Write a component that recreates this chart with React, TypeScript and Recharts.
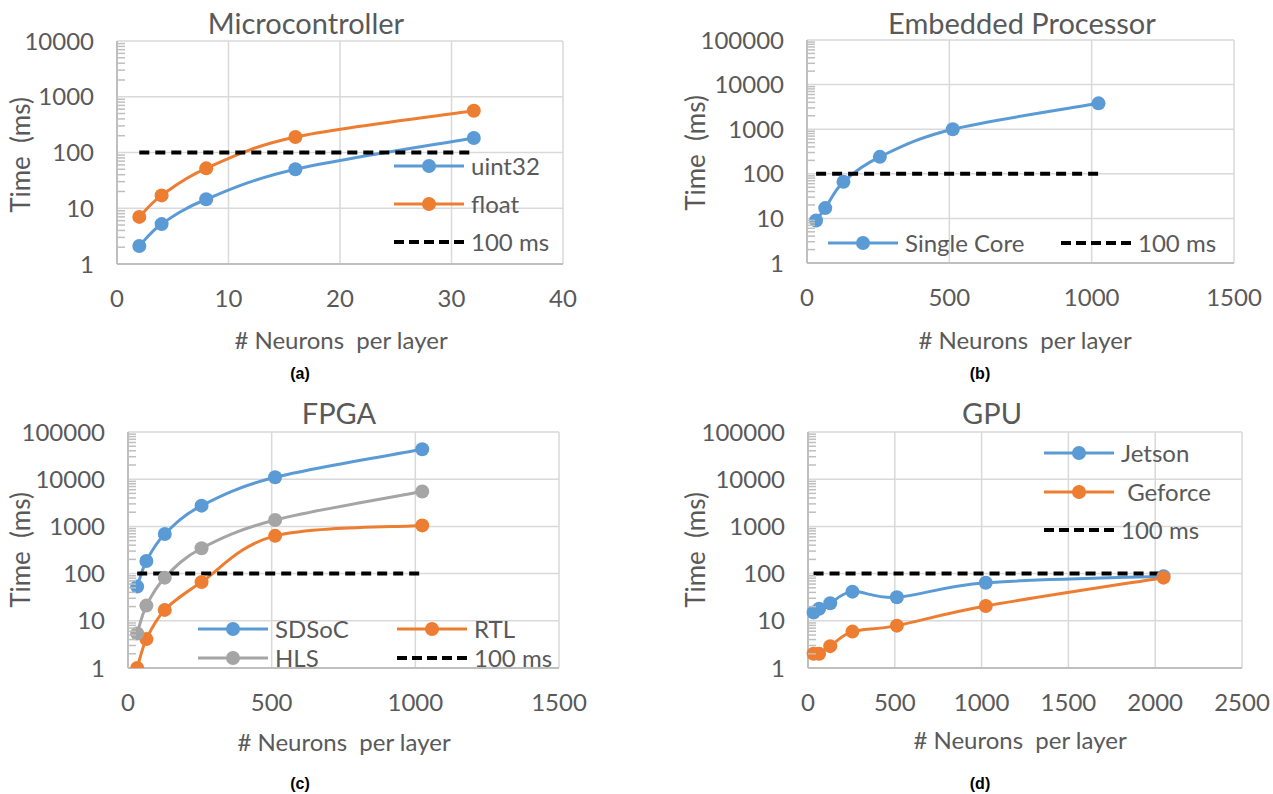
import React from "react";
import { LineChart, Line, XAxis, YAxis, CartesianGrid, Legend } from "recharts";

const FONT = "Lato, 'Open Sans', sans-serif";
const TEXT = "#595959";
const GRID = "#d9d9d9";
const AXIS = "#bfbfbf";
const BLUE = "#5b9bd5";
const ORANGE = "#ed7d31";
const GRAY = "#a5a5a5";

// (a) Microcontroller
const mcuNeurons = [2, 4, 8, 16, 32];
const mcuUint32 = [2.1, 5.2, 14.5, 50, 182];
const mcuFloat = [7, 17, 52, 190, 560];
const mcuLimitX = [2, 32];

// (b) Embedded processor
const embNeurons = [32, 64, 128, 256, 512, 1024];
const embSingleCore = [9, 17, 66, 240, 1000, 3800];
const embLimitX = [32, 1024];

// (c) FPGA
const fpgaNeurons = [32, 64, 128, 256, 512, 1024];
const fpgaSdsoc = [53, 185, 690, 2750, 11000, 43000];
const fpgaRtl = [1.0, 4.1, 17, 66, 630, 1050];
const fpgaHls = [5.4, 21, 82, 345, 1370, 5500];
const fpgaLimitX = [32, 1024];

// (d) GPU
const gpuNeurons = [32, 64, 128, 256, 512, 1024, 2048];
const gpuJetson = [15, 18, 23.5, 41.5, 31.5, 64, 88];
const gpuGeforce = [2.0, 2.0, 2.9, 5.9, 7.9, 20.6, 82];
const gpuLimitX = [32, 2048];

const limitMs = [100, 100];

const mcuXTicks = [0, 10, 20, 30, 40];
const bigXTicks = [0, 500, 1000, 1500];
const gpuXTicks = [0, 500, 1000, 1500, 2000, 2500];
const yTicks4 = [1, 10, 100, 1000, 10000];
const yTicks5 = [1, 10, 100, 1000, 10000, 100000];

const toPoints = (xs: number[], ys: number[]) => xs.map((x, i) => ({ x, y: ys[i] }));

const minorTicks = (max: number) => {
  const out: number[] = [];
  for (let d = 1; d < max; d *= 10) for (let k = 2; k <= 9; k++) out.push(d * k);
  return out;
};

// Excel-like smoothed line (Catmull-Rom through the points), used as a d3 curve factory
const smoothCurve = (context: any) => {
  let pts: [number, number][] = [];
  return {
    areaStart() {},
    areaEnd() {},
    lineStart() {
      pts = [];
    },
    point(x: number, y: number) {
      pts.push([+x, +y]);
    },
    lineEnd() {
      const n = pts.length;
      if (!n) return;
      context.moveTo(pts[0][0], pts[0][1]);
      for (let i = 0; i < n - 1; i++) {
        const p0 = pts[Math.max(i - 1, 0)];
        const p1 = pts[i];
        const p2 = pts[i + 1];
        const p3 = pts[Math.min(i + 2, n - 1)];
        context.bezierCurveTo(
          p1[0] + (p2[0] - p0[0]) / 6,
          p1[1] + (p2[1] - p0[1]) / 6,
          p2[0] - (p3[0] - p1[0]) / 6,
          p2[1] - (p3[1] - p1[1]) / 6,
          p2[0],
          p2[1]
        );
      }
    },
  };
};

type Series = { name: string; xs: number[]; ys: number[]; color: string; dashed?: boolean };
type LegendCfg = { left: number; top: number; cols: number; colWidth: number; rowHeight: number };
type PanelProps = {
  left: number;
  top: number;
  width: number;
  height: number;
  m: { l: number; t: number; r: number; b: number };
  xTicks: number[];
  yTicks: number[];
  series: Series[];
  legend: LegendCfg;
};

const legendContent = (cfg: LegendCfg, order: string[]) => (props: any) => {
  const items = [...(props.payload || [])].sort(
    (a: any, b: any) => order.indexOf(a.value) - order.indexOf(b.value)
  );
  return (
    <div
      style={{
        display: "grid",
        gridTemplateColumns: `repeat(${cfg.cols}, ${cfg.colWidth}px)`,
        gridAutoRows: cfg.rowHeight,
        fontFamily: FONT,
        fontSize: 24,
        color: TEXT,
      }}
    >
      {items.map((it: any) => {
        const dashed = !!(it.payload && it.payload.strokeDasharray);
        return (
          <div key={it.value} style={{ display: "flex", alignItems: "center", whiteSpace: "pre" }}>
            <svg width={70} height={18} style={{ flex: "none" }}>
              {dashed ? (
                <line x1={0} x2={70} y1={9} y2={9} stroke="#000" strokeWidth={4} strokeDasharray="10 5" />
              ) : (
                <>
                  <line x1={0} x2={70} y1={9} y2={9} stroke={it.color} strokeWidth={3} />
                  <circle cx={35} cy={9} r={7} fill={it.color} />
                </>
              )}
            </svg>
            <span style={{ marginLeft: 7, lineHeight: 1 }}>{it.value}</span>
          </div>
        );
      })}
    </div>
  );
};

// short inward tick mark for the log minor values
const MinorTick = (props: any) => {
  const { x, y } = props;
  return <line x1={x - 8} x2={x} y1={y} y2={y} stroke={AXIS} strokeWidth={1.5} />;
};

const Panel = ({ left, top, width, height, m, xTicks, yTicks, series, legend }: PanelProps) => {
  const yMax = yTicks[yTicks.length - 1];
  const tickStyle = { fill: TEXT, fontSize: 24, fontFamily: FONT };
  return (
    <div style={{ position: "absolute", left, top }}>
      <LineChart width={width} height={height} margin={{ top: m.t, right: m.r, bottom: m.b - 40, left: 0 }}>
        <CartesianGrid stroke={GRID} strokeWidth={1.5} />
        <XAxis
          type="number"
          dataKey="x"
          domain={[xTicks[0], xTicks[xTicks.length - 1]]}
          ticks={xTicks}
          interval={0}
          height={40}
          tickSize={0}
          tickMargin={26}
          tickLine={false}
          axisLine={{ stroke: AXIS, strokeWidth: 2 }}
          tick={tickStyle}
        />
        <YAxis
          yAxisId="minor"
          mirror
          type="number"
          scale="log"
          domain={[1, yMax]}
          allowDataOverflow
          ticks={minorTicks(yMax)}
          interval={0}
          tick={<MinorTick />}
          tickSize={8}
          tickMargin={0}
          tickLine={false}
          axisLine={false}
        />
        <YAxis
          type="number"
          scale="log"
          domain={[1, yMax]}
          allowDataOverflow
          ticks={yTicks}
          interval={0}
          width={m.l}
          tickSize={0}
          tickMargin={23}
          tickLine={false}
          axisLine={{ stroke: AXIS, strokeWidth: 2 }}
          tick={tickStyle}
        />
        {series.map((s) =>
          s.dashed ? (
            <Line
              key={s.name}
              data={toPoints(s.xs, s.ys)}
              dataKey="y"
              name={s.name}
              type="linear"
              stroke="#000"
              strokeWidth={4}
              strokeDasharray="10 6"
              dot={false}
              activeDot={false}
              isAnimationActive={false}
            />
          ) : (
            <Line
              key={s.name}
              data={toPoints(s.xs, s.ys)}
              dataKey="y"
              name={s.name}
              type={smoothCurve as any}
              stroke={s.color}
              strokeWidth={3}
              dot={{ r: 7, fill: s.color, stroke: s.color, strokeWidth: 0 }}
              activeDot={false}
              isAnimationActive={false}
            />
          )
        )}
        <Legend
          layout="vertical"
          align="center"
          verticalAlign="middle"
          wrapperStyle={{ left: legend.left, top: legend.top, width: legend.cols * legend.colWidth }}
          content={legendContent(legend, series.map((s) => s.name))}
        />
      </LineChart>
    </div>
  );
};

const Txt = ({ x, y, size, children, rotate, bold }: any) => (
  <div
    style={{
      position: "absolute",
      left: x,
      top: y,
      transform: `translate(-50%, -50%)${rotate ? " rotate(-90deg)" : ""}`,
      fontFamily: bold ? "'Liberation Sans', Arial, sans-serif" : FONT,
      fontWeight: bold ? 700 : 400,
      fontSize: size,
      color: bold ? "#000" : TEXT,
      whiteSpace: "pre",
      lineHeight: 1,
    }}
  >
    {children}
  </div>
);

const App = () => {
  return (
    <div style={{ position: "absolute", left: 0, top: 0, width: 1273, height: 794, background: "#fff", overflow: "hidden" }}>
      <Panel
        left={0}
        top={0}
        width={640}
        height={390}
        m={{ l: 117, t: 41, r: 77, b: 126 }}
        xTicks={mcuXTicks}
        yTicks={yTicks4}
        series={[
          { name: "uint32", xs: mcuNeurons, ys: mcuUint32, color: BLUE },
          { name: "float", xs: mcuNeurons, ys: mcuFloat, color: ORANGE },
          { name: "100 ms", xs: mcuLimitX, ys: limitMs, color: "#000", dashed: true },
        ]}
        legend={{ left: 394, top: 147, cols: 1, colWidth: 200, rowHeight: 38 }}
      />
      <Panel
        left={640}
        top={0}
        width={633}
        height={390}
        m={{ l: 167, t: 40, r: 39, b: 127 }}
        xTicks={bigXTicks}
        yTicks={yTicks5}
        series={[
          { name: "Single Core", xs: embNeurons, ys: embSingleCore, color: BLUE },
          { name: "100 ms", xs: embLimitX, ys: limitMs, color: "#000", dashed: true },
        ]}
        legend={{ left: 188, top: 225, cols: 2, colWidth: 233, rowHeight: 36 }}
      />
      <Panel
        left={0}
        top={390}
        width={640}
        height={404}
        m={{ l: 128, t: 42, r: 81, b: 126 }}
        xTicks={bigXTicks}
        yTicks={yTicks5}
        series={[
          { name: "SDSoC", xs: fpgaNeurons, ys: fpgaSdsoc, color: BLUE },
          { name: "RTL", xs: fpgaNeurons, ys: fpgaRtl, color: ORANGE },
          { name: "HLS", xs: fpgaNeurons, ys: fpgaHls, color: GRAY },
          { name: "100 ms", xs: fpgaLimitX, ys: limitMs, color: "#000", dashed: true },
        ]}
        legend={{ left: 198, top: 224, cols: 2, colWidth: 199, rowHeight: 29 }}
      />
      <Panel
        left={640}
        top={390}
        width={633}
        height={404}
        m={{ l: 168, t: 42, r: 31, b: 126 }}
        xTicks={gpuXTicks}
        yTicks={yTicks5}
        series={[
          { name: "Jetson", xs: gpuNeurons, ys: gpuJetson, color: BLUE },
          { name: " Geforce", xs: gpuNeurons, ys: gpuGeforce, color: ORANGE },
          { name: "100 ms", xs: gpuLimitX, ys: limitMs, color: "#000", dashed: true },
        ]}
        legend={{ left: 404, top: 44, cols: 1, colWidth: 200, rowHeight: 38.5 }}
      />

      <Txt x={306} y={22} size={29}>Microcontroller</Txt>
      <Txt x={20} y={155} size={26} rotate>{"Time  (ms)"}</Txt>
      <Txt x={341} y={340} size={24}>{"# Neurons  per layer"}</Txt>
      <Txt x={300} y={374} size={16} bold>(a)</Txt>

      <Txt x={1022} y={22} size={29}>Embedded Processor</Txt>
      <Txt x={695} y={153} size={26} rotate>{"Time  (ms)"}</Txt>
      <Txt x={1025} y={340} size={24}>{"# Neurons  per layer"}</Txt>
      <Txt x={980} y={374} size={16} bold>(b)</Txt>

      <Txt x={339} y={412} size={29}>FPGA</Txt>
      <Txt x={20} y={550} size={26} rotate>{"Time  (ms)"}</Txt>
      <Txt x={344} y={742} size={24}>{"# Neurons  per layer"}</Txt>
      <Txt x={300} y={784} size={16} bold>(c)</Txt>

      <Txt x={992} y={412} size={29}>GPU</Txt>
      <Txt x={695} y={550} size={26} rotate>{"Time  (ms)"}</Txt>
      <Txt x={1020} y={740} size={24}>{"# Neurons  per layer"}</Txt>
      <Txt x={980} y={784} size={16} bold>(d)</Txt>
    </div>
  );
};

export default App;
